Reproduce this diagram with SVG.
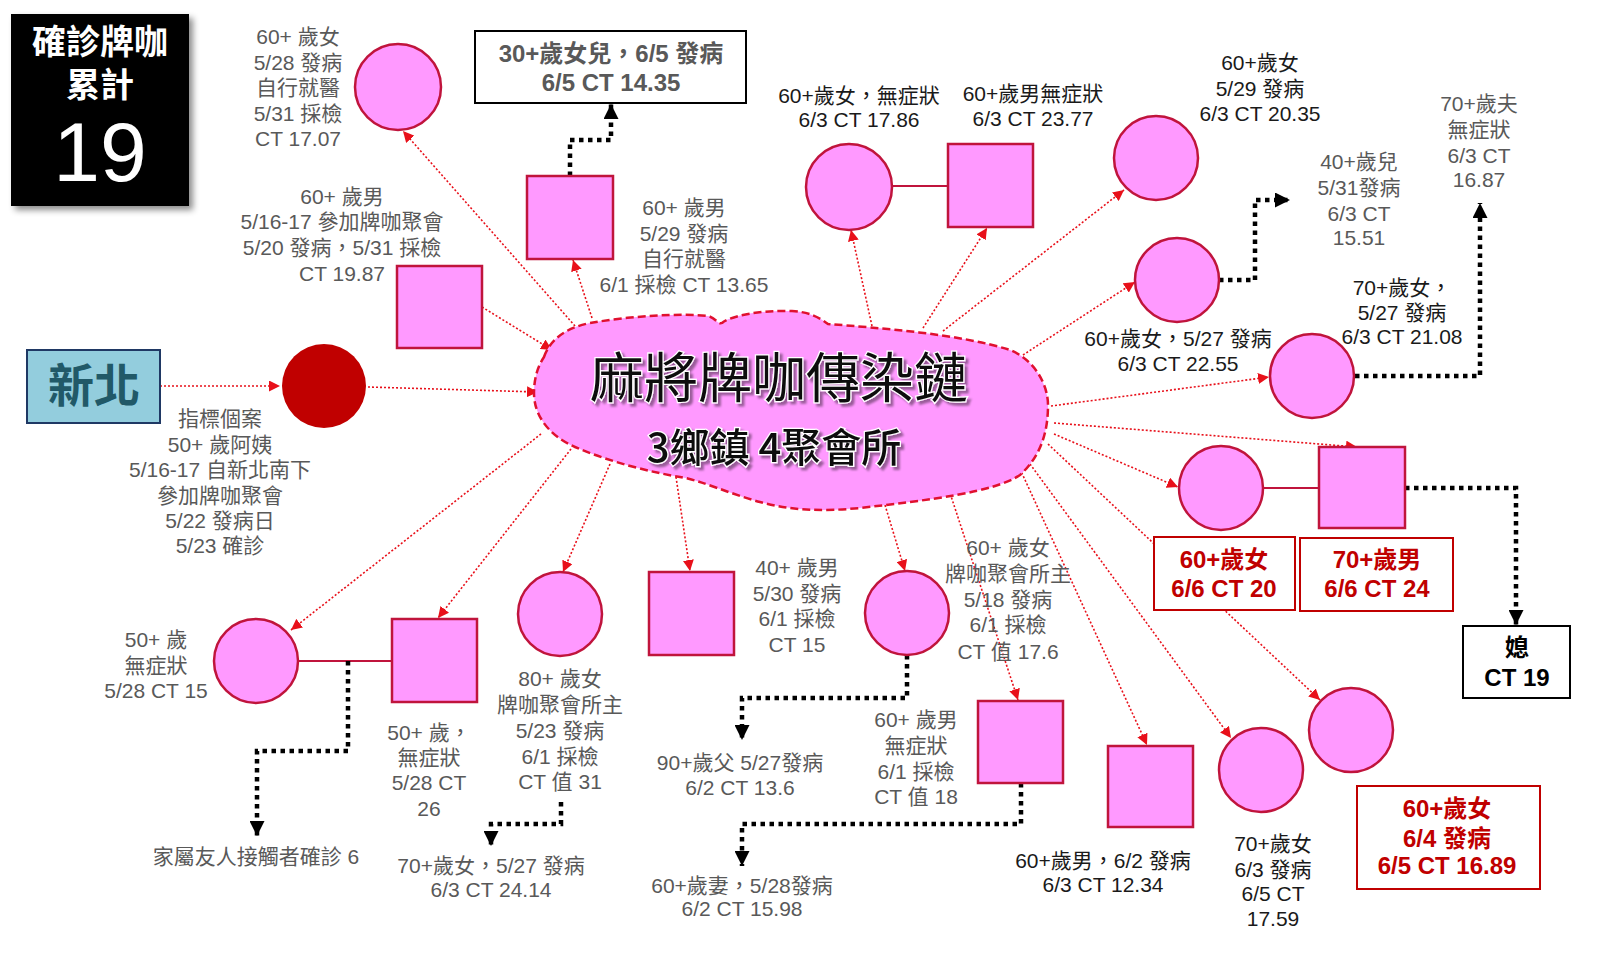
<svg xmlns="http://www.w3.org/2000/svg" width="1600" height="955" viewBox="0 0 1600 955">
<defs>
<style>
text{font-family:'Liberation Sans','Noto Sans CJK TC',sans-serif;dominant-baseline:central;text-anchor:middle}
.g{fill:#595959;font-size:21px}
.d{fill:#1a1a1a;font-size:21px}
.bg{fill:#595959;font-size:24px;font-weight:bold}
.rb{fill:#C00000;font-size:24px;font-weight:bold}
.kb{fill:#000;font-size:24px;font-weight:bold}
.pk{fill:#FF99FF;stroke:#C0143C;stroke-width:2.5}
.rl{fill:none;stroke:#E8101A;stroke-width:1.6;stroke-dasharray:2 2;marker-end:url(#ra)}
.bl{fill:none;stroke:#000;stroke-width:4.5;stroke-dasharray:4.5 4.5;marker-end:url(#ba)}
.sp{stroke:#C0143C;stroke-width:2}
.bx{fill:#fff;stroke:#000;stroke-width:2}
.rbx{fill:#fff;stroke:#C00000;stroke-width:2}
.tt{font-family:'Noto Sans CJK TC','Liberation Sans',sans-serif;fill:#111;stroke:#fff;stroke-width:2.5;paint-order:stroke;filter:url(#ts)}
</style>
<marker id="ra" viewBox="0 0 10 10" refX="10" refY="5" markerWidth="11" markerHeight="11" markerUnits="userSpaceOnUse" orient="auto"><path d="M0,0 L10,5 L0,10 z" fill="#E8101A"/></marker>
<marker id="ba" viewBox="0 0 10 10" refX="10" refY="5" markerWidth="15" markerHeight="15" markerUnits="userSpaceOnUse" orient="auto"><path d="M0,0 L10,5 L0,10 z" fill="#000"/></marker>
<filter id="sh" x="-10%" y="-10%" width="130%" height="130%"><feDropShadow dx="4" dy="4" stdDeviation="3" flood-color="#000" flood-opacity="0.45"/></filter>
<filter id="ts" x="-5%" y="-20%" width="115%" height="150%"><feDropShadow dx="3" dy="3" stdDeviation="1.2" flood-color="#000" flood-opacity="0.4"/></filter>
</defs>
<rect width="1600" height="955" fill="#fff"/>

<g id="total">
<rect x="11" y="14" width="178" height="192" fill="#000" filter="url(#sh)"/>
<text x="100" y="42" style="fill:#fff;font-size:34px;font-weight:bold">確診牌咖</text>
<text x="100" y="85" style="fill:#fff;font-size:34px;font-weight:bold">累計</text>
<text x="100" y="152" style="fill:#fff;font-size:84px">19</text>
</g>

<g id="connectors">
<line class="rl" x1="160" y1="386" x2="280" y2="386"/>
<line class="rl" x1="368" y1="387" x2="538" y2="392"/>
<line class="rl" x1="575" y1="326" x2="403" y2="131"/>
<line class="rl" x1="482" y1="307" x2="552" y2="350"/>
<line class="rl" x1="592" y1="318" x2="573" y2="260"/>
<line class="rl" x1="872" y1="326" x2="851" y2="230"/>
<line class="rl" x1="923" y1="328" x2="987" y2="228"/>
<line class="rl" x1="943" y1="331" x2="1124" y2="190"/>
<line class="rl" x1="1023" y1="355" x2="1135" y2="282"/>
<line class="rl" x1="1051" y1="406" x2="1269" y2="377"/>
<line class="rl" x1="1054" y1="423" x2="1357" y2="447"/>
<line class="rl" x1="1054" y1="434" x2="1178" y2="487"/>
<line class="rl" x1="1048" y1="444" x2="1320" y2="700"/>
<line class="rl" x1="1030" y1="464" x2="1231" y2="738"/>
<line class="rl" x1="1020" y1="469" x2="1147" y2="745"/>
<line class="rl" x1="949" y1="490" x2="1018" y2="700"/>
<line class="rl" x1="885" y1="505" x2="905" y2="571"/>
<line class="rl" x1="676" y1="477" x2="690" y2="571"/>
<line class="rl" x1="610" y1="464" x2="563" y2="572"/>
<line class="rl" x1="571" y1="449" x2="438" y2="618"/>
<line class="rl" x1="541" y1="434" x2="291" y2="630"/>
<line class="sp" x1="892" y1="186" x2="948" y2="186"/>
<line class="sp" x1="1263" y1="488" x2="1319" y2="488"/>
<line class="sp" x1="298" y1="661" x2="392" y2="661"/>
<path class="bl" d="M570 176 V140 H611 V104"/>
<path class="bl" d="M1219 280 H1255 V200 H1290"/>
<path class="bl" d="M1355 376 H1480 V203"/>
<path class="bl" d="M1405 488 H1516 V625"/>
<path class="bl" d="M907 655 V698 H742 V740"/>
<path class="bl" d="M1021 783 V824 H742 V866"/>
<path class="bl" d="M348 661 V751 H257 V836"/>
<path class="bl" d="M561 802 V824 H491 V846"/>
</g>

<g id="cloud">
<path d="M544 357 C550 340,565 328,590 323 C630 316,680 313,708 316 C716 318,718 325,722 323 C730 316,760 310,792 311 C810 312,820 318,828 324 C880 328,960 334,1010 350 C1035 360,1048 385,1048 405 C1048 430,1042 455,1020 475 C995 492,930 500,860 508 C820 512,790 510,760 502 C730 494,700 480,680 477 C650 472,610 462,575 447 C548 435,534 415,534 393 C534 378,538 366,544 357 Z" fill="#FF99FF" stroke="#E0102F" stroke-width="2.5" stroke-dasharray="8 4"/>
<text class="tt" x="779" y="374" style="font-size:54px">麻將牌咖傳染鏈</text>
<text class="tt" x="774" y="445" style="font-size:40px;font-weight:500">3鄉鎮 4聚會所</text>
</g>

<g id="xinbei">
<rect x="27" y="350" width="133" height="73" fill="#93CDDD" stroke="#1F3864" stroke-width="2"/>
<text x="94" y="386" style="fill:#215968;font-size:46px;font-weight:bold">新北</text>
</g>

<g id="index-case">
<circle cx="324" cy="386" r="42" fill="#C00000"/>
<text class="g" x="220" y="418">指標個案</text>
<text class="g" x="220" y="444">50+ 歲阿姨</text>
<text class="g" x="220" y="469">5/16-17 自新北南下</text>
<text class="g" x="220" y="495">參加牌咖聚會</text>
<text class="g" x="220" y="520">5/22 發病日</text>
<text class="g" x="220" y="545">5/23 確診</text>
</g>

<g id="c1">
<circle class="pk" cx="398" cy="87" r="43"/>
<text class="g" x="298" y="36">60+ 歲女</text>
<text class="g" x="298" y="62">5/28 發病</text>
<text class="g" x="298" y="87">自行就醫</text>
<text class="g" x="298" y="113">5/31 採檢</text>
<text class="g" x="298" y="138">CT 17.07</text>
</g>

<g id="s1">
<rect class="pk" x="397" y="266" width="85" height="82"/>
<text class="g" x="342" y="196">60+ 歲男</text>
<text class="g" x="342" y="221">5/16-17 參加牌咖聚會</text>
<text class="g" x="342" y="247">5/20 發病，5/31 採檢</text>
<text class="g" x="342" y="273">CT 19.87</text>
</g>

<g id="s2">
<rect class="pk" x="527" y="176" width="86" height="83"/>
<text class="g" x="684" y="207">60+ 歲男</text>
<text class="g" x="684" y="233">5/29 發病</text>
<text class="g" x="684" y="258">自行就醫</text>
<text class="g" x="684" y="284">6/1 採檢 CT 13.65</text>
</g>

<g id="daughter">
<rect class="bx" x="475" y="31" width="271" height="72"/>
<text class="bg" x="611" y="53">30+歲女兒，6/5 發病</text>
<text class="bg" x="611" y="82">6/5 CT 14.35</text>
</g>

<g id="c2">
<circle class="pk" cx="849" cy="187" r="43"/>
<text class="d" x="859" y="95">60+歲女，無症狀</text>
<text class="d" x="859" y="119">6/3 CT 17.86</text>
</g>

<g id="s3">
<rect class="pk" x="948" y="144" width="85" height="83"/>
<text class="d" x="1033" y="93">60+歲男無症狀</text>
<text class="d" x="1033" y="118">6/3 CT 23.77</text>
</g>

<g id="c3">
<circle class="pk" cx="1156" cy="158" r="42"/>
<text class="d" x="1260" y="62">60+歲女</text>
<text class="d" x="1260" y="88">5/29 發病</text>
<text class="d" x="1260" y="113">6/3 CT 20.35</text>
</g>

<g id="c4">
<circle class="pk" cx="1177" cy="280" r="42"/>
<text class="d" x="1178" y="338">60+歲女，5/27 發病</text>
<text class="d" x="1178" y="363">6/3 CT 22.55</text>
</g>

<g id="son">
<text class="g" x="1359" y="161">40+歲兒</text>
<text class="g" x="1359" y="187">5/31發病</text>
<text class="g" x="1359" y="213">6/3 CT</text>
<text class="g" x="1359" y="237">15.51</text>
</g>

<g id="c5">
<circle class="pk" cx="1312" cy="376" r="42"/>
<text class="d" x="1402" y="287">70+歲女，</text>
<text class="d" x="1402" y="312">5/27 發病</text>
<text class="d" x="1402" y="336">6/3 CT 21.08</text>
</g>

<g id="husband">
<text class="g" x="1479" y="103">70+歲夫</text>
<text class="g" x="1479" y="129">無症狀</text>
<text class="g" x="1479" y="155">6/3 CT</text>
<text class="g" x="1479" y="179">16.87</text>
</g>

<g id="c6">
<circle class="pk" cx="1221" cy="488" r="42"/>
<rect class="rbx" x="1154" y="537" width="141" height="73"/>
<text class="rb" x="1224" y="559">60+歲女</text>
<text class="rb" x="1224" y="588">6/6 CT 20</text>
</g>

<g id="s4">
<rect class="pk" x="1319" y="447" width="86" height="81"/>
<rect class="rbx" x="1300" y="538" width="153" height="73"/>
<text class="rb" x="1377" y="559">70+歲男</text>
<text class="rb" x="1377" y="588">6/6 CT 24</text>
</g>

<g id="daughter-in-law">
<rect class="bx" x="1463" y="626" width="107" height="72"/>
<text class="kb" x="1517" y="647">媳</text>
<text class="kb" x="1517" y="677">CT 19</text>
</g>

<g id="c7">
<circle class="pk" cx="1351" cy="730" r="42"/>
<rect class="rbx" x="1357" y="786" width="183" height="103"/>
<text class="rb" x="1447" y="808">60+歲女</text>
<text class="rb" x="1447" y="838">6/4 發病</text>
<text class="rb" x="1447" y="865">6/5 CT 16.89</text>
</g>

<g id="c8">
<circle class="pk" cx="1261" cy="770" r="42"/>
<text class="d" x="1273" y="843">70+歲女</text>
<text class="d" x="1273" y="869">6/3 發病</text>
<text class="d" x="1273" y="893">6/5 CT</text>
<text class="d" x="1273" y="918">17.59</text>
</g>

<g id="s5">
<rect class="pk" x="1108" y="746" width="85" height="81"/>
<text class="d" x="1103" y="860">60+歲男，6/2 發病</text>
<text class="d" x="1103" y="884">6/3 CT 12.34</text>
</g>

<g id="s6">
<rect class="pk" x="978" y="701" width="85" height="82"/>
<text class="g" x="916" y="719">60+ 歲男</text>
<text class="g" x="916" y="745">無症狀</text>
<text class="g" x="916" y="771">6/1 採檢</text>
<text class="g" x="916" y="796">CT 值 18</text>
</g>

<g id="wife">
<text class="g" x="742" y="885">60+歲妻，5/28發病</text>
<text class="g" x="742" y="908">6/2 CT 15.98</text>
</g>

<g id="c9">
<circle class="pk" cx="907" cy="613" r="42"/>
<text class="g" x="1008" y="547">60+ 歲女</text>
<text class="g" x="1008" y="573">牌咖聚會所主</text>
<text class="g" x="1008" y="599">5/18 發病</text>
<text class="g" x="1008" y="624">6/1 採檢</text>
<text class="g" x="1008" y="651">CT 值 17.6</text>
</g>

<g id="father">
<text class="g" x="740" y="762">90+歲父 5/27發病</text>
<text class="g" x="740" y="787">6/2 CT 13.6</text>
</g>

<g id="s7">
<rect class="pk" x="649" y="572" width="85" height="83"/>
<text class="g" x="797" y="567">40+ 歲男</text>
<text class="g" x="797" y="593">5/30 發病</text>
<text class="g" x="797" y="618">6/1 採檢</text>
<text class="g" x="797" y="644">CT 15</text>
</g>

<g id="c10">
<circle class="pk" cx="560" cy="614" r="42"/>
<text class="g" x="560" y="678">80+ 歲女</text>
<text class="g" x="560" y="704">牌咖聚會所主</text>
<text class="g" x="560" y="730">5/23 發病</text>
<text class="g" x="560" y="756">6/1 採檢</text>
<text class="g" x="560" y="781">CT 值 31</text>
</g>

<g id="c10-contact">
<text class="g" x="491" y="865">70+歲女，5/27 發病</text>
<text class="g" x="491" y="889">6/3 CT 24.14</text>
</g>

<g id="c11">
<circle class="pk" cx="256" cy="661" r="42"/>
<text class="g" x="156" y="639">50+ 歲</text>
<text class="g" x="156" y="665">無症狀</text>
<text class="g" x="156" y="690">5/28 CT 15</text>
</g>

<g id="s8">
<rect class="pk" x="392" y="619" width="85" height="83"/>
<text class="g" x="429" y="732">50+ 歲，</text>
<text class="g" x="429" y="757">無症狀</text>
<text class="g" x="429" y="782">5/28 CT</text>
<text class="g" x="429" y="808">26</text>
</g>

<g id="family">
<text class="g" x="256" y="856">家屬友人接觸者確診 6</text>
</g>
</svg>
